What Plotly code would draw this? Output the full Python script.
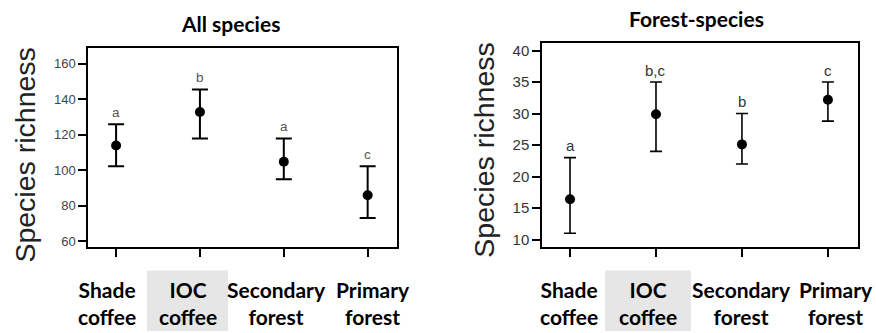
import plotly.graph_objects as go

# ---- data ----
categories = ["Shade coffee", "IOC coffee", "Secondary forest", "Primary forest"]
cat_labels = ["Shade<br>coffee", "IOC<br>coffee", "Secondary<br>forest", "Primary<br>forest"]

all_mean = [114.0, 132.8, 104.8, 86.0]
all_upper = [126.0, 145.5, 118.0, 102.3]
all_lower = [102.3, 118.0, 95.0, 73.2]
all_letters = ["a", "b", "a", "c"]

forest_mean = [16.4, 29.9, 25.1, 32.2]
forest_upper = [23.0, 35.0, 30.0, 35.0]
forest_lower = [11.0, 24.0, 22.0, 28.8]
forest_letters = ["a", "b,c", "b", "c"]

all_yticks = [60, 80, 100, 120, 140, 160]
forest_yticks = [10, 15, 20, 25, 30, 35, 40]

xpos = [1, 2, 3, 4]

W, H = 876, 333
fig = go.Figure()

def add_panel(mean, upper, lower, xa, ya, lw, capw):
    fig.add_trace(go.Scatter(
        x=xpos, y=mean, mode="markers", xaxis=xa, yaxis=ya,
        marker=dict(color="black", size=10),
        error_y=dict(type="data", symmetric=False,
                     array=[u - m for u, m in zip(upper, mean)],
                     arrayminus=[m - l for m, l in zip(mean, lower)],
                     color="black", thickness=lw, width=capw),
        showlegend=False, hoverinfo="skip"))

add_panel(all_mean, all_upper, all_lower, "x", "y", 2, 8)
add_panel(forest_mean, forest_upper, forest_lower, "x2", "y2", 1.6, 6)

def px_x(p):
    return p / W

def px_y(p):
    return 1 - p / H

axis_common = dict(showline=True, mirror=True, linecolor="black", linewidth=1.5,
                   showgrid=False, zeroline=False, ticks="outside", ticklen=8,
                   tickwidth=1.5, tickcolor="black")

fig.update_layout(
    width=W, height=H, margin=dict(l=0, r=0, t=0, b=0),
    paper_bgcolor="white", plot_bgcolor="white",
    xaxis=dict(domain=[px_x(88), px_x(397)], range=[0.665, 4.35], tickvals=xpos,
               showticklabels=False, anchor="y", **axis_common),
    yaxis=dict(domain=[px_y(248), px_y(47)], range=[57.0, 169.1], tickvals=all_yticks,
               tickfont=dict(family="Liberation Sans, Arial", size=13, color="#444"),
               anchor="x", **axis_common),
    xaxis2=dict(domain=[px_x(542), px_x(858)], range=[0.674, 4.35], tickvals=xpos,
                showticklabels=False, anchor="y2", **axis_common),
    yaxis2=dict(domain=[px_y(248.3), px_y(42.7)], range=[8.8, 41.15], tickvals=forest_yticks,
                tickfont=dict(family="Liberation Sans, Arial", size=15, color="#333"),
                anchor="x2", **axis_common),
)

def pa(text, x, y, size, family="Lato, Open Sans", color="black", angle=0):
    return dict(text=text, x=x, y=y, xref="paper", yref="paper", showarrow=False,
                xanchor="center", yanchor="middle", textangle=angle,
                font=dict(family=family, size=size, color=color))

annos = []
# panel titles
annos.append(pa("<b>All species</b>", px_x(230), px_y(23), 21))
annos.append(pa("<b>Forest-species</b>", px_x(696), px_y(18), 21))
# y axis titles
annos.append(pa("Species richness", px_x(25), px_y(156), 28.5,
                family="Liberation Sans, Arial", color="#222", angle=-90))
annos.append(pa("Species richness", px_x(484), px_y(151), 28.5,
                family="Liberation Sans, Arial", color="#222", angle=-90))
# significance letters
for xa, ya, ups, lets, col, fs in [("x", "y", all_upper, all_letters, "#555", 13.5),
                                   ("x2", "y2", forest_upper, forest_letters, "#333", 15)]:
    for xv, u, t in zip(xpos, ups, lets):
        annos.append(dict(text=t, x=xv, y=u, xref=xa, yref=ya, showarrow=False,
                          xanchor="center", yanchor="middle", yshift=12,
                          font=dict(family="Liberation Sans, Arial", size=fs, color=col)))
# category labels (bold, below axes)
left_shift = [-9, -12, -7, 5]
right_shift = [-1, -8, 0, 8]
for xa, shifts in [("x", left_shift), ("x2", right_shift)]:
    for xv, lab, s in zip(xpos, cat_labels, shifts):
        annos.append(dict(text="<b>" + lab + "</b>", x=xv, y=px_y(305), xref=xa, yref="paper",
                          xshift=s, showarrow=False, align="center",
                          xanchor="center", yanchor="middle",
                          font=dict(family="Lato, Open Sans", size=21, color="black")))
fig.update_layout(annotations=annos)

# grey highlight behind "IOC coffee"
fig.add_shape(type="rect", xref="paper", yref="paper",
              x0=px_x(147), x1=px_x(228), y0=0, y1=px_y(272),
              fillcolor="#e6e6e6", line=dict(width=0), layer="below")
fig.add_shape(type="rect", xref="paper", yref="paper",
              x0=px_x(605), x1=px_x(691), y0=0, y1=px_y(272),
              fillcolor="#e6e6e6", line=dict(width=0), layer="below")

fig.write_html("out.html")
